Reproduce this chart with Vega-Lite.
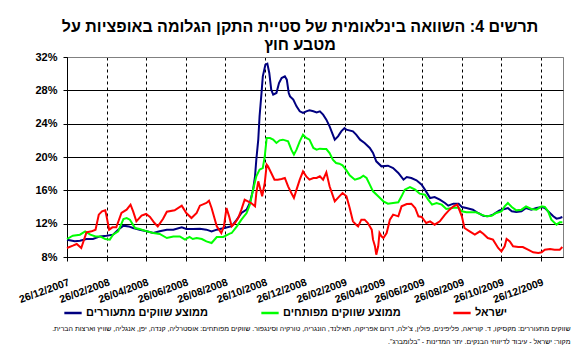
{
  "$schema": "https://vega.github.io/schema/vega-lite/v6.json",
  "autosize": {"type": "none"},
  "padding": {"left": 67, "top": 57, "right": 18, "bottom": 100},
  "background": "white",
  "config": {"font": "Liberation Sans", "view": {"stroke": "#808080"}},
  "title": {"text": ["תרשים 4: השוואה בינלאומית של סטיית התקן הגלומה באופציות על", "מטבע חוץ"], "fontSize": 16, "fontWeight": "bold", "color": "black", "anchor": "middle", "lineHeight": 18, "offset": -2, "dx": -15},
  "width": 496,
  "height": 200,
  "data": {"values": [
    {"d":"2007-12-26","s":"ממוצע שווקים מתעוררים","v":10.08},
    {"d":"2008-01-07","s":"ממוצע שווקים מתעוררים","v":9.88},
    {"d":"2008-01-15","s":"ממוצע שווקים מתעוררים","v":9.96},
    {"d":"2008-01-25","s":"ממוצע שווקים מתעוררים","v":10.16},
    {"d":"2008-02-04","s":"ממוצע שווקים מתעוררים","v":10.16},
    {"d":"2008-02-15","s":"ממוצע שווקים מתעוררים","v":10.47},
    {"d":"2008-02-25","s":"ממוצע שווקים מתעוררים","v":10.56},
    {"d":"2008-03-06","s":"ממוצע שווקים מתעוררים","v":10.68},
    {"d":"2008-03-14","s":"ממוצע שווקים מתעוררים","v":11.28},
    {"d":"2008-03-22","s":"ממוצע שווקים מתעוררים","v":11.76},
    {"d":"2008-03-30","s":"ממוצע שווקים מתעוררים","v":11.67},
    {"d":"2008-04-06","s":"ממוצע שווקים מתעוררים","v":11.48},
    {"d":"2008-04-16","s":"ממוצע שווקים מתעוררים","v":11.28},
    {"d":"2008-04-27","s":"ממוצע שווקים מתעוררים","v":11.08},
    {"d":"2008-05-07","s":"ממוצע שווקים מתעוררים","v":10.88},
    {"d":"2008-05-17","s":"ממוצע שווקים מתעוררים","v":11.08},
    {"d":"2008-05-28","s":"ממוצע שווקים מתעוררים","v":11.28},
    {"d":"2008-06-07","s":"ממוצע שווקים מתעוררים","v":11.28},
    {"d":"2008-06-20","s":"ממוצע שווקים מתעוררים","v":11.56},
    {"d":"2008-06-27","s":"ממוצע שווקים מתעוררים","v":11.36},
    {"d":"2008-07-07","s":"ממוצע שווקים מתעוררים","v":11.36},
    {"d":"2008-07-18","s":"ממוצע שווקים מתעוררים","v":11.4},
    {"d":"2008-07-28","s":"ממוצע שווקים מתעוררים","v":11.28},
    {"d":"2008-08-05","s":"ממוצע שווקים מתעוררים","v":11.08},
    {"d":"2008-08-13","s":"ממוצע שווקים מתעוררים","v":11.28},
    {"d":"2008-08-23","s":"ממוצע שווקים מתעוררים","v":11.45},
    {"d":"2008-08-28","s":"ממוצע שווקים מתעוררים","v":11.55},
    {"d":"2008-09-05","s":"ממוצע שווקים מתעוררים","v":11.7},
    {"d":"2008-09-13","s":"ממוצע שווקים מתעוררים","v":12.48},
    {"d":"2008-09-20","s":"ממוצע שווקים מתעוררים","v":13.28},
    {"d":"2008-09-28","s":"ממוצע שווקים מתעוררים","v":13.68},
    {"d":"2008-10-03","s":"ממוצע שווקים מתעוררים","v":14.48},
    {"d":"2008-10-08","s":"ממוצע שווקים מתעוררים","v":16.08},
    {"d":"2008-10-11","s":"ממוצע שווקים מתעוררים","v":17.68},
    {"d":"2008-10-13","s":"ממוצע שווקים מתעוררים","v":19.68},
    {"d":"2008-10-16","s":"ממוצע שווקים מתעוררים","v":22.08},
    {"d":"2008-10-18","s":"ממוצע שווקים מתעוררים","v":24.88},
    {"d":"2008-10-21","s":"ממוצע שווקים מתעוררים","v":27.68},
    {"d":"2008-10-23","s":"ממוצע שווקים מתעוררים","v":29.68},
    {"d":"2008-10-27","s":"ממוצע שווקים מתעוררים","v":31.08},
    {"d":"2008-10-30","s":"ממוצע שווקים מתעוררים","v":31.2},
    {"d":"2008-11-02","s":"ממוצע שווקים מתעוררים","v":30.08},
    {"d":"2008-11-05","s":"ממוצע שווקים מתעוררים","v":28.08},
    {"d":"2008-11-08","s":"ממוצע שווקים מתעוררים","v":27.48},
    {"d":"2008-11-13","s":"ממוצע שווקים מתעוררים","v":27.68},
    {"d":"2008-11-17","s":"ממוצע שווקים מתעוררים","v":28.88},
    {"d":"2008-11-21","s":"ממוצע שווקים מתעוררים","v":29.48},
    {"d":"2008-11-26","s":"ממוצע שווקים מתעוררים","v":29.68},
    {"d":"2008-11-29","s":"ממוצע שווקים מתעוררים","v":29.28},
    {"d":"2008-12-02","s":"ממוצע שווקים מתעוררים","v":27.68},
    {"d":"2008-12-04","s":"ממוצע שווקים מתעוררים","v":27.28},
    {"d":"2008-12-09","s":"ממוצע שווקים מתעוררים","v":26.88},
    {"d":"2008-12-14","s":"ממוצע שווקים מתעוררים","v":26.08},
    {"d":"2008-12-19","s":"ממוצע שווקים מתעוררים","v":25.48},
    {"d":"2008-12-24","s":"ממוצע שווקים מתעוררים","v":25.28},
    {"d":"2008-12-29","s":"ממוצע שווקים מתעוררים","v":25.48},
    {"d":"2009-01-03","s":"ממוצע שווקים מתעוררים","v":25.6},
    {"d":"2009-01-09","s":"ממוצע שווקים מתעוררים","v":25.48},
    {"d":"2009-01-14","s":"ממוצע שווקים מתעוררים","v":25.36},
    {"d":"2009-01-19","s":"ממוצע שווקים מתעוררים","v":25.48},
    {"d":"2009-01-24","s":"ממוצע שווקים מתעוררים","v":25.08},
    {"d":"2009-01-29","s":"ממוצע שווקים מתעוררים","v":24.48},
    {"d":"2009-02-03","s":"ממוצע שווקים מתעוררים","v":23.68},
    {"d":"2009-02-11","s":"ממוצע שווקים מתעוררים","v":22.08},
    {"d":"2009-02-16","s":"ממוצע שווקים מתעוררים","v":22.48},
    {"d":"2009-02-21","s":"ממוצע שווקים מתעוררים","v":23.08},
    {"d":"2009-02-26","s":"ממוצע שווקים מתעוררים","v":23.48},
    {"d":"2009-03-01","s":"ממוצע שווקים מתעוררים","v":23.28},
    {"d":"2009-03-11","s":"ממוצע שווקים מתעוררים","v":23.08},
    {"d":"2009-03-16","s":"ממוצע שווקים מתעוררים","v":22.68},
    {"d":"2009-03-22","s":"ממוצע שווקים מתעוררים","v":22.08},
    {"d":"2009-03-29","s":"ממוצע שווקים מתעוררים","v":21.68},
    {"d":"2009-04-06","s":"ממוצע שווקים מתעוררים","v":21.08},
    {"d":"2009-04-11","s":"ממוצע שווקים מתעוררים","v":20.48},
    {"d":"2009-04-16","s":"ממוצע שווקים מתעוררים","v":19.48},
    {"d":"2009-04-24","s":"ממוצע שווקים מתעוררים","v":18.88},
    {"d":"2009-05-04","s":"ממוצע שווקים מתעוררים","v":18.96},
    {"d":"2009-05-12","s":"ממוצע שווקים מתעוררים","v":18.68},
    {"d":"2009-05-20","s":"ממוצע שווקים מתעוררים","v":18.08},
    {"d":"2009-05-28","s":"ממוצע שווקים מתעוררים","v":17.28},
    {"d":"2009-06-02","s":"ממוצע שווקים מתעוררים","v":17.6},
    {"d":"2009-06-09","s":"ממוצע שווקים מתעוררים","v":17.48},
    {"d":"2009-06-17","s":"ממוצע שווקים מתעוררים","v":17.2},
    {"d":"2009-06-25","s":"ממוצע שווקים מתעוררים","v":16.68},
    {"d":"2009-06-30","s":"ממוצע שווקים מתעוררים","v":16.08},
    {"d":"2009-07-08","s":"ממוצע שווקים מתעוררים","v":15.08},
    {"d":"2009-07-15","s":"ממוצע שווקים מתעוררים","v":15.2},
    {"d":"2009-07-23","s":"ממוצע שווקים מתעוררים","v":14.88},
    {"d":"2009-07-31","s":"ממוצע שווקים מתעוררים","v":14.48},
    {"d":"2009-08-05","s":"ממוצע שווקים מתעוררים","v":14.16},
    {"d":"2009-08-13","s":"ממוצע שווקים מתעוררים","v":14.4},
    {"d":"2009-08-21","s":"ממוצע שווקים מתעוררים","v":14.4},
    {"d":"2009-08-26","s":"ממוצע שווקים מתעוררים","v":14.0},
    {"d":"2009-09-02","s":"ממוצע שווקים מתעוררים","v":13.88},
    {"d":"2009-09-12","s":"ממוצע שווקים מתעוררים","v":13.68},
    {"d":"2009-09-20","s":"ממוצע שווקים מתעוררים","v":13.28},
    {"d":"2009-09-28","s":"ממוצע שווקים מתעוררים","v":12.96},
    {"d":"2009-10-05","s":"ממוצע שווקים מתעוררים","v":12.88},
    {"d":"2009-10-13","s":"ממוצע שווקים מתעוררים","v":13.08},
    {"d":"2009-10-23","s":"ממוצע שווקים מתעוררים","v":13.6},
    {"d":"2009-10-31","s":"ממוצע שווקים מתעוררים","v":13.76},
    {"d":"2009-11-05","s":"ממוצע שווקים מתעוררים","v":13.88},
    {"d":"2009-11-11","s":"ממוצע שווקים מתעוררים","v":13.48},
    {"d":"2009-11-18","s":"ממוצע שווקים מתעוררים","v":13.4},
    {"d":"2009-11-26","s":"ממוצע שווקים מתעוררים","v":13.48},
    {"d":"2009-12-03","s":"ממוצע שווקים מתעוררים","v":13.88},
    {"d":"2009-12-11","s":"ממוצע שווקים מתעוררים","v":13.68},
    {"d":"2009-12-19","s":"ממוצע שווקים מתעוררים","v":13.88},
    {"d":"2009-12-27","s":"ממוצע שווקים מתעוררים","v":14.0},
    {"d":"2010-01-01","s":"ממוצע שווקים מתעוררים","v":13.88},
    {"d":"2010-01-06","s":"ממוצע שווקים מתעוררים","v":13.48},
    {"d":"2010-01-14","s":"ממוצע שווקים מתעוררים","v":12.88},
    {"d":"2010-01-19","s":"ממוצע שווקים מתעוררים","v":12.6},
    {"d":"2010-01-24","s":"ממוצע שווקים מתעוררים","v":12.68},
    {"d":"2010-01-28","s":"ממוצע שווקים מתעוררים","v":12.8},
    {"d":"2007-12-26","s":"ממוצע שווקים מפותחים","v":10.16},
    {"d":"2008-01-04","s":"ממוצע שווקים מפותחים","v":10.56},
    {"d":"2008-01-15","s":"ממוצע שווקים מפותחים","v":10.68},
    {"d":"2008-01-23","s":"ממוצע שווקים מפותחים","v":11.08},
    {"d":"2008-01-31","s":"ממוצע שווקים מפותחים","v":10.68},
    {"d":"2008-02-08","s":"ממוצע שווקים מפותחים","v":10.47},
    {"d":"2008-02-15","s":"ממוצע שווקים מפותחים","v":10.47},
    {"d":"2008-02-23","s":"ממוצע שווקים מפותחים","v":10.16},
    {"d":"2008-03-01","s":"ממוצע שווקים מפותחים","v":10.08},
    {"d":"2008-03-06","s":"ממוצע שווקים מפותחים","v":10.68},
    {"d":"2008-03-14","s":"ממוצע שווקים מפותחים","v":11.08},
    {"d":"2008-03-22","s":"ממוצע שווקים מפותחים","v":12.56},
    {"d":"2008-03-27","s":"ממוצע שווקים מפותחים","v":12.68},
    {"d":"2008-04-01","s":"ממוצע שווקים מפותחים","v":12.48},
    {"d":"2008-04-09","s":"ממוצע שווקים מפותחים","v":11.48},
    {"d":"2008-04-16","s":"ממוצע שווקים מפותחים","v":11.36},
    {"d":"2008-04-27","s":"ממוצע שווקים מפותחים","v":11.08},
    {"d":"2008-05-07","s":"ממוצע שווקים מפותחים","v":10.88},
    {"d":"2008-05-17","s":"ממוצע שווקים מפותחים","v":10.76},
    {"d":"2008-05-28","s":"ממוצע שווקים מפותחים","v":10.28},
    {"d":"2008-06-07","s":"ממוצע שווקים מפותחים","v":10.47},
    {"d":"2008-06-17","s":"ממוצע שווקים מפותחים","v":10.47},
    {"d":"2008-06-25","s":"ממוצע שווקים מפותחים","v":10.08},
    {"d":"2008-07-02","s":"ממוצע שווקים מפותחים","v":10.4},
    {"d":"2008-07-07","s":"ממוצע שווקים מפותחים","v":10.16},
    {"d":"2008-07-13","s":"ממוצע שווקים מפותחים","v":10.28},
    {"d":"2008-07-21","s":"ממוצע שווקים מפותחים","v":10.16},
    {"d":"2008-07-28","s":"ממוצע שווקים מפותחים","v":9.88},
    {"d":"2008-08-05","s":"ממוצע שווקים מפותחים","v":9.68},
    {"d":"2008-08-13","s":"ממוצע שווקים מפותחים","v":10.4},
    {"d":"2008-08-23","s":"ממוצע שווקים מפותחים","v":10.4},
    {"d":"2008-09-02","s":"ממוצע שווקים מפותחים","v":10.8},
    {"d":"2008-09-05","s":"ממוצע שווקים מפותחים","v":10.88},
    {"d":"2008-09-13","s":"ממוצע שווקים מפותחים","v":11.68},
    {"d":"2008-09-20","s":"ממוצע שווקים מפותחים","v":12.48},
    {"d":"2008-09-28","s":"ממוצע שווקים מפותחים","v":13.28},
    {"d":"2008-10-03","s":"ממוצע שווקים מפותחים","v":14.28},
    {"d":"2008-10-08","s":"ממוצע שווקים מפותחים","v":16.08},
    {"d":"2008-10-13","s":"ממוצע שווקים מפותחים","v":17.68},
    {"d":"2008-10-18","s":"ממוצע שווקים מפותחים","v":18.48},
    {"d":"2008-10-23","s":"ממוצע שווקים מפותחים","v":18.68},
    {"d":"2008-10-26","s":"ממוצע שווקים מפותחים","v":20.08},
    {"d":"2008-10-29","s":"ממוצע שווקים מפותחים","v":22.28},
    {"d":"2008-11-03","s":"ממוצע שווקים מפותחים","v":22.28},
    {"d":"2008-11-08","s":"ממוצע שווקים מפותחים","v":22.08},
    {"d":"2008-11-13","s":"ממוצע שווקים מפותחים","v":21.68},
    {"d":"2008-11-18","s":"ממוצע שווקים מפותחים","v":22.0},
    {"d":"2008-11-23","s":"ממוצע שווקים מפותחים","v":22.08},
    {"d":"2008-12-01","s":"ממוצע שווקים מפותחים","v":21.88},
    {"d":"2008-12-06","s":"ממוצע שווקים מפותחים","v":20.88},
    {"d":"2008-12-10","s":"ממוצע שווקים מפותחים","v":20.28},
    {"d":"2008-12-14","s":"ממוצע שווקים מפותחים","v":20.88},
    {"d":"2008-12-19","s":"ממוצע שווקים מפותחים","v":21.88},
    {"d":"2008-12-24","s":"ממוצע שווקים מפותחים","v":22.68},
    {"d":"2008-12-29","s":"ממוצע שווקים מפותחים","v":22.28},
    {"d":"2009-01-03","s":"ממוצע שווקים מפותחים","v":22.08},
    {"d":"2009-01-09","s":"ממוצע שווקים מפותחים","v":21.08},
    {"d":"2009-01-14","s":"ממוצע שווקים מפותחים","v":20.88},
    {"d":"2009-01-19","s":"ממוצע שווקים מפותחים","v":21.0},
    {"d":"2009-01-24","s":"ממוצע שווקים מפותחים","v":20.96},
    {"d":"2009-01-29","s":"ממוצע שווקים מפותחים","v":20.96},
    {"d":"2009-02-03","s":"ממוצע שווקים מפותחים","v":20.48},
    {"d":"2009-02-08","s":"ממוצע שווקים מפותחים","v":19.68},
    {"d":"2009-02-13","s":"ממוצע שווקים מפותחים","v":19.28},
    {"d":"2009-02-18","s":"ממוצע שווקים מפותחים","v":19.2},
    {"d":"2009-02-23","s":"ממוצע שווקים מפותחים","v":19.0},
    {"d":"2009-03-01","s":"ממוצע שווקים מפותחים","v":18.4},
    {"d":"2009-03-06","s":"ממוצע שווקים מפותחים","v":17.8},
    {"d":"2009-03-14","s":"ממוצע שווקים מפותחים","v":17.28},
    {"d":"2009-03-22","s":"ממוצע שווקים מפותחים","v":17.48},
    {"d":"2009-03-27","s":"ממוצע שווקים מפותחים","v":17.76},
    {"d":"2009-04-01","s":"ממוצע שווקים מפותחים","v":17.48},
    {"d":"2009-04-06","s":"ממוצע שווקים מפותחים","v":16.68},
    {"d":"2009-04-11","s":"ממוצע שווקים מפותחים","v":15.88},
    {"d":"2009-04-19","s":"ממוצע שווקים מפותחים","v":15.28},
    {"d":"2009-04-27","s":"ממוצע שווקים מפותחים","v":14.68},
    {"d":"2009-05-04","s":"ממוצע שווקים מפותחים","v":14.4},
    {"d":"2009-05-12","s":"ממוצע שווקים מפותחים","v":14.48},
    {"d":"2009-05-20","s":"ממוצע שווקים מפותחים","v":14.56},
    {"d":"2009-05-25","s":"ממוצע שווקים מפותחים","v":15.28},
    {"d":"2009-05-30","s":"ממוצע שווקים מפותחים","v":16.08},
    {"d":"2009-06-07","s":"ממוצע שווקים מפותחים","v":16.4},
    {"d":"2009-06-15","s":"ממוצע שווקים מפותחים","v":16.08},
    {"d":"2009-06-22","s":"ממוצע שווקים מפותחים","v":15.6},
    {"d":"2009-06-30","s":"ממוצע שווקים מפותחים","v":15.48},
    {"d":"2009-07-05","s":"ממוצע שווקים מפותחים","v":14.88},
    {"d":"2009-07-11","s":"ממוצע שווקים מפותחים","v":14.28},
    {"d":"2009-07-18","s":"ממוצע שווקים מפותחים","v":14.48},
    {"d":"2009-07-26","s":"ממוצע שווקים מפותחים","v":14.28},
    {"d":"2009-08-02","s":"ממוצע שווקים מפותחים","v":13.76},
    {"d":"2009-08-13","s":"ממוצע שווקים מפותחים","v":13.9},
    {"d":"2009-08-21","s":"ממוצע שווקים מפותחים","v":13.9},
    {"d":"2009-08-26","s":"ממוצע שווקים מפותחים","v":13.48},
    {"d":"2009-09-02","s":"ממוצע שווקים מפותחים","v":13.36},
    {"d":"2009-09-09","s":"ממוצע שווקים מפותחים","v":13.36},
    {"d":"2009-09-17","s":"ממוצע שווקים מפותחים","v":13.36},
    {"d":"2009-09-25","s":"ממוצע שווקים מפותחים","v":13.08},
    {"d":"2009-10-03","s":"ממוצע שווקים מפותחים","v":12.88},
    {"d":"2009-10-11","s":"ממוצע שווקים מפותחים","v":12.96},
    {"d":"2009-10-18","s":"ממוצע שווקים מפותחים","v":13.28},
    {"d":"2009-10-26","s":"ממוצע שווקים מפותחים","v":13.48},
    {"d":"2009-10-31","s":"ממוצע שווקים מפותחים","v":14.08},
    {"d":"2009-11-05","s":"ממוצע שווקים מפותחים","v":14.48},
    {"d":"2009-11-11","s":"ממוצע שווקים מפותחים","v":14.0},
    {"d":"2009-11-18","s":"ממוצע שווקים מפותחים","v":13.6},
    {"d":"2009-11-26","s":"ממוצע שווקים מפותחים","v":13.68},
    {"d":"2009-12-03","s":"ממוצע שווקים מפותחים","v":14.08},
    {"d":"2009-12-11","s":"ממוצע שווקים מפותחים","v":13.76},
    {"d":"2009-12-19","s":"ממוצע שווקים מפותחים","v":13.68},
    {"d":"2009-12-27","s":"ממוצע שווקים מפותחים","v":14.08},
    {"d":"2010-01-01","s":"ממוצע שווקים מפותחים","v":14.0},
    {"d":"2010-01-06","s":"ממוצע שווקים מפותחים","v":13.48},
    {"d":"2010-01-11","s":"ממוצע שווקים מפותחים","v":12.48},
    {"d":"2010-01-19","s":"ממוצע שווקים מפותחים","v":11.88},
    {"d":"2010-01-24","s":"ממוצע שווקים מפותחים","v":12.16},
    {"d":"2010-01-28","s":"ממוצע שווקים מפותחים","v":12.16},
    {"d":"2007-12-26","s":"ישראל","v":9.08},
    {"d":"2008-01-04","s":"ישראל","v":9.36},
    {"d":"2008-01-10","s":"ישראל","v":9.56},
    {"d":"2008-01-17","s":"ישראל","v":9.08},
    {"d":"2008-01-25","s":"ישראל","v":10.96},
    {"d":"2008-02-02","s":"ישראל","v":11.08},
    {"d":"2008-02-08","s":"ישראל","v":11.28},
    {"d":"2008-02-13","s":"ישראל","v":13.08},
    {"d":"2008-02-18","s":"ישראל","v":13.48},
    {"d":"2008-02-23","s":"ישראל","v":13.6},
    {"d":"2008-02-25","s":"ישראל","v":12.88},
    {"d":"2008-02-29","s":"ישראל","v":11.28},
    {"d":"2008-03-05","s":"ישראל","v":11.56},
    {"d":"2008-03-11","s":"ישראל","v":11.56},
    {"d":"2008-03-19","s":"ישראל","v":13.28},
    {"d":"2008-03-27","s":"ישראל","v":13.68},
    {"d":"2008-04-02","s":"ישראל","v":14.28},
    {"d":"2008-04-06","s":"ישראל","v":13.48},
    {"d":"2008-04-11","s":"ישראל","v":12.28},
    {"d":"2008-04-19","s":"ישראל","v":12.96},
    {"d":"2008-04-26","s":"ישראל","v":13.16},
    {"d":"2008-05-02","s":"ישראל","v":12.8},
    {"d":"2008-05-09","s":"ישראל","v":12.08},
    {"d":"2008-05-14","s":"ישראל","v":11.68},
    {"d":"2008-05-22","s":"ישראל","v":12.56},
    {"d":"2008-05-28","s":"ישראל","v":13.44},
    {"d":"2008-06-09","s":"ישראל","v":13.6},
    {"d":"2008-06-20","s":"ישראל","v":14.16},
    {"d":"2008-06-27","s":"ישראל","v":13.28},
    {"d":"2008-07-05","s":"ישראל","v":12.68},
    {"d":"2008-07-13","s":"ישראל","v":13.28},
    {"d":"2008-07-18","s":"ישראל","v":14.16},
    {"d":"2008-07-28","s":"ישראל","v":14.48},
    {"d":"2008-08-01","s":"ישראל","v":14.76},
    {"d":"2008-08-05","s":"ישראל","v":13.88},
    {"d":"2008-08-13","s":"ישראל","v":11.68},
    {"d":"2008-08-20","s":"ישראל","v":10.88},
    {"d":"2008-08-24","s":"ישראל","v":11.68},
    {"d":"2008-08-28","s":"ישראל","v":13.88},
    {"d":"2008-09-01","s":"ישראל","v":12.88},
    {"d":"2008-09-05","s":"ישראל","v":11.68},
    {"d":"2008-09-10","s":"ישראל","v":12.08},
    {"d":"2008-09-15","s":"ישראל","v":12.68},
    {"d":"2008-09-20","s":"ישראל","v":13.68},
    {"d":"2008-09-25","s":"ישראל","v":14.88},
    {"d":"2008-09-30","s":"ישראל","v":14.68},
    {"d":"2008-10-05","s":"ישראל","v":14.48},
    {"d":"2008-10-11","s":"ישראל","v":14.08},
    {"d":"2008-10-13","s":"ישראל","v":15.68},
    {"d":"2008-10-16","s":"ישראל","v":17.08},
    {"d":"2008-10-18","s":"ישראל","v":16.48},
    {"d":"2008-10-22","s":"ישראל","v":15.28},
    {"d":"2008-10-26","s":"ישראל","v":16.88},
    {"d":"2008-10-29","s":"ישראל","v":19.08},
    {"d":"2008-10-31","s":"ישראל","v":18.88},
    {"d":"2008-11-05","s":"ישראל","v":18.08},
    {"d":"2008-11-10","s":"ישראל","v":17.28},
    {"d":"2008-11-15","s":"ישראל","v":17.28},
    {"d":"2008-11-21","s":"ישראל","v":17.36},
    {"d":"2008-11-26","s":"ישראל","v":17.48},
    {"d":"2008-12-01","s":"ישראל","v":16.48},
    {"d":"2008-12-06","s":"ישראל","v":15.68},
    {"d":"2008-12-10","s":"ישראל","v":15.08},
    {"d":"2008-12-14","s":"ישראל","v":16.08},
    {"d":"2008-12-19","s":"ישראל","v":17.28},
    {"d":"2008-12-24","s":"ישראל","v":18.28},
    {"d":"2008-12-29","s":"ישראל","v":17.68},
    {"d":"2009-01-03","s":"ישראל","v":17.28},
    {"d":"2009-01-09","s":"ישראל","v":17.48},
    {"d":"2009-01-14","s":"ישראל","v":17.48},
    {"d":"2009-01-19","s":"ישראל","v":17.68},
    {"d":"2009-01-24","s":"ישראל","v":17.28},
    {"d":"2009-01-29","s":"ישראל","v":18.16},
    {"d":"2009-02-03","s":"ישראל","v":16.48},
    {"d":"2009-02-11","s":"ישראל","v":14.68},
    {"d":"2009-02-18","s":"ישראל","v":15.28},
    {"d":"2009-02-23","s":"ישראל","v":15.68},
    {"d":"2009-03-01","s":"ישראל","v":15.28},
    {"d":"2009-03-06","s":"ישראל","v":13.88},
    {"d":"2009-03-11","s":"ישראל","v":12.28},
    {"d":"2009-03-16","s":"ישראל","v":11.88},
    {"d":"2009-03-19","s":"ישראל","v":11.68},
    {"d":"2009-03-24","s":"ישראל","v":12.48},
    {"d":"2009-03-29","s":"ישראל","v":12.48},
    {"d":"2009-04-03","s":"ישראל","v":12.08},
    {"d":"2009-04-09","s":"ישראל","v":11.28},
    {"d":"2009-04-11","s":"ישראל","v":10.08},
    {"d":"2009-04-14","s":"ישראל","v":9.28},
    {"d":"2009-04-16","s":"ישראל","v":8.28},
    {"d":"2009-04-19","s":"ישראל","v":9.28},
    {"d":"2009-04-21","s":"ישראל","v":10.88},
    {"d":"2009-04-24","s":"ישראל","v":10.48},
    {"d":"2009-04-27","s":"ישראל","v":10.28},
    {"d":"2009-05-02","s":"ישראל","v":10.88},
    {"d":"2009-05-07","s":"ישראל","v":12.48},
    {"d":"2009-05-12","s":"ישראל","v":13.08},
    {"d":"2009-05-20","s":"ישראל","v":12.88},
    {"d":"2009-05-25","s":"ישראל","v":14.08},
    {"d":"2009-06-02","s":"ישראל","v":14.36},
    {"d":"2009-06-09","s":"ישראל","v":14.4},
    {"d":"2009-06-15","s":"ישראל","v":13.88},
    {"d":"2009-06-20","s":"ישראל","v":12.88},
    {"d":"2009-06-25","s":"ישראל","v":12.8},
    {"d":"2009-07-02","s":"ישראל","v":12.08},
    {"d":"2009-07-08","s":"ישראל","v":12.28},
    {"d":"2009-07-15","s":"ישראל","v":11.88},
    {"d":"2009-07-23","s":"ישראל","v":12.28},
    {"d":"2009-07-31","s":"ישראל","v":13.08},
    {"d":"2009-08-07","s":"ישראל","v":13.68},
    {"d":"2009-08-13","s":"ישראל","v":14.08},
    {"d":"2009-08-19","s":"ישראל","v":14.28},
    {"d":"2009-08-26","s":"ישראל","v":12.88},
    {"d":"2009-08-30","s":"ישראל","v":11.48},
    {"d":"2009-09-07","s":"ישראל","v":11.08},
    {"d":"2009-09-15","s":"ישראל","v":10.68},
    {"d":"2009-09-23","s":"ישראל","v":11.08},
    {"d":"2009-09-28","s":"ישראל","v":10.8},
    {"d":"2009-10-05","s":"ישראל","v":10.28},
    {"d":"2009-10-13","s":"ישראל","v":10.08},
    {"d":"2009-10-21","s":"ישראל","v":9.08},
    {"d":"2009-10-26","s":"ישראל","v":8.68},
    {"d":"2009-10-31","s":"ישראל","v":9.28},
    {"d":"2009-11-03","s":"ישראל","v":10.16},
    {"d":"2009-11-08","s":"ישראל","v":9.88},
    {"d":"2009-11-13","s":"ישראל","v":9.28},
    {"d":"2009-11-21","s":"ישראל","v":9.2},
    {"d":"2009-11-28","s":"ישראל","v":9.2},
    {"d":"2009-12-06","s":"ישראל","v":8.88},
    {"d":"2009-12-14","s":"ישראל","v":8.56},
    {"d":"2009-12-22","s":"ישראל","v":8.48},
    {"d":"2009-12-27","s":"ישראל","v":8.56},
    {"d":"2010-01-01","s":"ישראל","v":8.88},
    {"d":"2010-01-09","s":"ישראל","v":8.96},
    {"d":"2010-01-16","s":"ישראל","v":8.88},
    {"d":"2010-01-24","s":"ישראל","v":8.88},
    {"d":"2010-01-28","s":"ישראל","v":9.2}
  ]},
  "mark": {"type": "line", "strokeWidth": 2},
  "encoding": {
    "x": {
      "field": "d", "type": "temporal",
      "scale": {"type": "utc", "domain": [{"year": 2007, "month": 12, "date": 26, "utc": true}, {"year": 2010, "month": 1, "date": 29, "utc": true}]},
      "axis": {
        "values": [
          {"year": 2007, "month": 12, "date": 26, "utc": true},
          {"year": 2008, "month": 2, "date": 26, "utc": true},
          {"year": 2008, "month": 4, "date": 26, "utc": true},
          {"year": 2008, "month": 6, "date": 26, "utc": true},
          {"year": 2008, "month": 8, "date": 26, "utc": true},
          {"year": 2008, "month": 10, "date": 26, "utc": true},
          {"year": 2008, "month": 12, "date": 26, "utc": true},
          {"year": 2009, "month": 2, "date": 26, "utc": true},
          {"year": 2009, "month": 4, "date": 26, "utc": true},
          {"year": 2009, "month": 6, "date": 26, "utc": true},
          {"year": 2009, "month": 8, "date": 26, "utc": true},
          {"year": 2009, "month": 10, "date": 26, "utc": true},
          {"year": 2009, "month": 12, "date": 26, "utc": true}
        ],
        "format": "%d/%m/%Y",
        "title": ["שווקים מתעוררים: מקסיקו, ד. קוריאה, פליפינים, פולין, צ'ילה, דרום אפריקה, תאילנד, הונגריה, טורקיה וסינגפור. שווקים מפותחים: אוסטרליה, קנדה, יפן, אנגליה, שוויץ וארצות הברית.‏", "מקור: ישראל - עיבוד לדיווחי הבנקים. יתר המדינות - \"בלומברג\".‏"],
        "titleFontSize": 7,
        "titleFontWeight": "normal",
        "titleColor": "black",
        "titleAnchor": "end",
        "titleAlign": "right",
        "titleBaseline": "alphabetic",
        "titleLineHeight": 13,
        "titleX": 503,
        "titleY": 73,
        "labelAngle": -20,
        "labelAlign": "right",
        "labelBaseline": "top",
        "labelFontSize": 10.5,
        "labelFontWeight": "bold",
        "labelColor": "black",
        "labelPadding": 16,
        "labelDx": -3,
        "labelOverlap": false,
        "labelFlush": false,
        "tickColor": "black",
        "tickSize": 4,
        "domainColor": "black",
        "grid": true,
        "gridColor": "black",
        "gridDash": [3, 3],
        "gridOpacity": 1
      }
    },
    "y": {
      "field": "v", "type": "quantitative",
      "scale": {"domain": [8, 32], "nice": false},
      "axis": {
        "values": [8, 12, 16, 20, 24, 28, 32],
        "labelExpr": "datum.value + '%'",
        "title": null,
        "labelFontSize": 11,
        "labelFontWeight": "bold",
        "labelColor": "black",
        "labelPadding": 6,
        "tickColor": "black",
        "tickSize": 4,
        "domainColor": "black",
        "grid": true,
        "gridColor": {"condition": {"test": "datum.value == 32", "value": "#808080"}, "value": "black"},
        "gridOpacity": 1
      }
    },
    "color": {
      "field": "s", "type": "nominal",
      "scale": {"domain": ["ממוצע שווקים מתעוררים", "ממוצע שווקים מפותחים", "ישראל"], "range": ["#000080", "#00FF00", "#FF0000"]},
      "legend": {
        "orient": "none",
        "legendX": -4,
        "legendY": 246,
        "direction": "horizontal",
        "title": null,
        "symbolType": "stroke",
        "symbolStrokeWidth": 2.5,
        "symbolSize": 300,
        "labelFontSize": 11,
        "labelFontWeight": "bold",
        "labelColor": "black",
        "labelLimit": 300,
        "labelOffset": 3,
        "columnPadding": 47
      }
    }
  }
}
